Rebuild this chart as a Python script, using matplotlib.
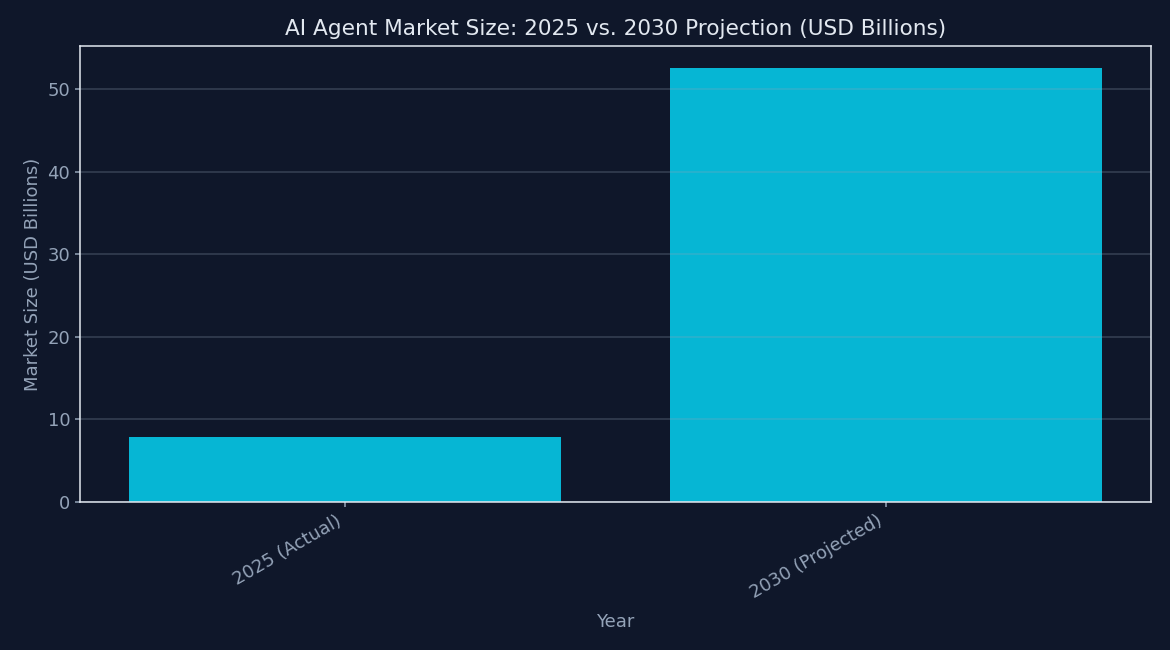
import matplotlib
matplotlib.use("Agg")
import matplotlib.pyplot as plt

categories = ["2025 (Actual)", "2030 (Projected)"]
values = [7.84, 52.62]

bg = "#0f172a"
fig, ax = plt.subplots(figsize=(11.7, 6.5), dpi=100)
fig.patch.set_facecolor(bg)
ax.set_facecolor(bg)

ax.bar(categories, values, color="#06b6d4", width=0.8)
ax.yaxis.grid(True, color="#94a3b8", alpha=0.3, linewidth=1.1)
ax.set_title("AI Agent Market Size: 2025 vs. 2030 Projection (USD Billions)",
             color="#e2e8f0", fontsize=15.6, pad=8)
ax.set_xlabel("Year", color="#94a3b8", fontsize=13, labelpad=8)
ax.set_ylabel("Market Size (USD Billions)", color="#94a3b8", fontsize=13)
ax.tick_params(colors="#94a3b8", labelsize=13, width=1.1)
for s in ax.spines.values():
    s.set_color("#e2e8f0")
    s.set_linewidth(1.1)
plt.setp(ax.get_xticklabels(), rotation=30, ha="right")

fig.subplots_adjust(left=80/1170, right=1151/1170, top=1-46/650, bottom=1-502/650)
fig.savefig("out.png", facecolor=bg)
